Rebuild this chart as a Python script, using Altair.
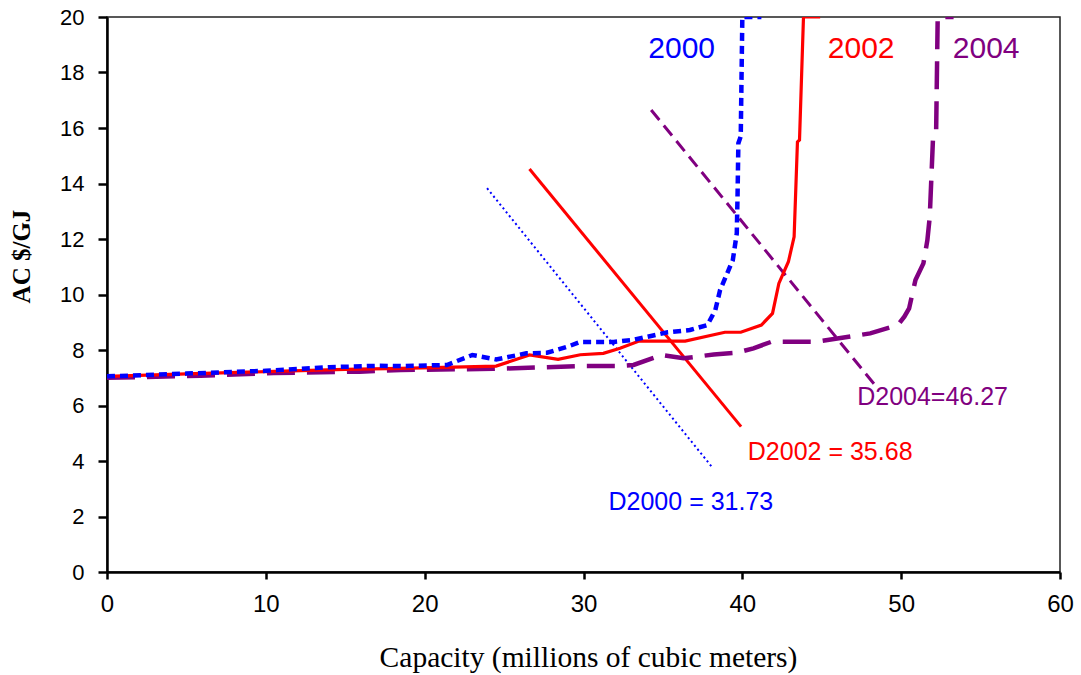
import altair as alt
import pandas as pd

# ---- data ----
x2000 = [0, 5, 10, 14, 17, 18.5, 21.4, 23.0, 24.5, 26.4, 27.7, 29.0, 29.8, 31.9, 33.1,
         35.3, 36.7, 37.8, 38.3, 38.6, 39.4, 39.65, 39.7, 39.75, 39.9, 40.0, 41.2]
y2000 = [7.05, 7.15, 7.25, 7.38, 7.43, 7.42, 7.46, 7.82, 7.66, 7.88, 7.9, 8.12, 8.29, 8.29, 8.36,
         8.64, 8.72, 8.9, 9.44, 10.16, 11.24, 12.2, 13.6, 15.45, 15.7, 20, 20]

x2002 = [0, 5, 10, 15, 18.5, 24.5, 26.6, 28.4, 29.8, 31.25, 32.3, 33.5, 36.4, 38.9, 39.9,
         41.2, 41.9, 42.3, 42.9, 43.26, 43.47, 43.6, 43.85, 44.9]
y2002 = [7.05, 7.14, 7.22, 7.3, 7.34, 7.42, 7.82, 7.66, 7.83, 7.88, 8.06, 8.32, 8.32, 8.64, 8.64,
         8.9, 9.32, 10.4, 11.18, 12.08, 15.5, 15.57, 20, 20]

x2004 = [0, 5.9, 10.5, 15.9, 18.5, 24.3, 29.8, 32.1, 33.15, 34.9, 36.3, 38.2, 39.65, 40.7,
         41.85, 44.7, 48.05, 49.8, 50.2, 50.5, 50.9, 51.4, 51.65, 51.8, 52.0, 52.2, 52.3, 53.3]
y2004 = [7.0, 7.07, 7.17, 7.22, 7.28, 7.32, 7.42, 7.42, 7.46, 7.82, 7.7, 7.84, 7.9, 8.06,
         8.3, 8.3, 8.6, 8.9, 9.2, 9.5, 10.52, 11.12, 11.96, 12.8, 15.57, 15.8, 20, 20]

d2000_x = [23.93, 38.08]
d2000_y = [13.83, 3.79]
d2002_x = [26.6, 39.92]
d2002_y = [14.52, 5.24]
d2004_x = [34.26, 48.5]
d2004_y = [16.65, 6.63]

year_labels = ["2000", "2002", "2004"]
year_x = [36.18, 47.48, 55.35]
year_y = [18.85, 18.85, 18.85]
year_colors = ["#0000FF", "#FF0000", "#800080"]

d_labels = ["D2000 = 31.73", "D2002 = 35.68", "D2004=46.27"]
d_x = [36.76, 45.53, 51.98]
d_y = [2.52, 4.31, 6.32]
d_colors = ["#0000FF", "#FF0000", "#800080"]

x_ticks = [0, 10, 20, 30, 40, 50, 60]
y_ticks = [0, 2, 4, 6, 8, 10, 12, 14, 16, 18, 20]

# ---- scales ----
xs = alt.Scale(domain=[0, 60], nice=False, zero=False)
ys = alt.Scale(domain=[0, 20], nice=False, zero=False)


def series(xv, yv):
    return pd.DataFrame({"x": xv, "y": yv, "o": list(range(len(xv)))})


def line_layer(xv, yv, color, width, dash=None, with_axes=False):
    kw = dict(color=color, strokeWidth=width, clip=True, strokeCap="butt")
    if dash:
        kw["strokeDash"] = dash
    if with_axes:
        xenc = alt.X("x:Q", scale=xs, title="Capacity (millions of cubic meters)",
                     axis=alt.Axis(values=x_ticks, format="d", titleX=481, titleY=85,
                                   titleBaseline="middle", labelFlush=False))
        yenc = alt.Y("y:Q", scale=ys, title="AC $/GJ",
                     axis=alt.Axis(values=y_ticks, format="d", titleX=-86, titleY=239,
                                   titleBaseline="middle", labelFlush=False))
    else:
        xenc = alt.X("x:Q", scale=xs)
        yenc = alt.Y("y:Q", scale=ys)
    return alt.Chart(series(xv, yv)).mark_line(**kw).encode(
        x=xenc, y=yenc, order="o:Q")


layers = [
    line_layer(d2000_x, d2000_y, "#0000FF", 2, [2, 3], with_axes=True),
    line_layer(d2002_x, d2002_y, "#FF0000", 3),
    line_layer(d2004_x, d2004_y, "#800080", 3, [13, 7]),
    line_layer(x2004, y2004, "#800080", 4.5, [28, 12]),
    line_layer(x2002, y2002, "#FF0000", 3.2),
    line_layer(x2000, y2000, "#0000FF", 4.5, [8, 5]),
]

years_df = pd.DataFrame({"t": year_labels, "x": year_x, "y": year_y, "c": year_colors})
dl_df = pd.DataFrame({"t": d_labels, "x": d_x, "y": d_y, "c": d_colors})

years_text = alt.Chart(years_df).mark_text(
    font="Liberation Sans", fontSize=30, align="center", baseline="middle"
).encode(x=alt.X("x:Q", scale=xs), y=alt.Y("y:Q", scale=ys),
         text="t:N", color=alt.Color("c:N", scale=None))

d_text = alt.Chart(dl_df).mark_text(
    font="Liberation Sans", fontSize=25, align="center", baseline="middle"
).encode(x=alt.X("x:Q", scale=xs), y=alt.Y("y:Q", scale=ys),
         text="t:N", color=alt.Color("c:N", scale=None))

chart = alt.layer(*layers, years_text, d_text).properties(
    width=953, height=555,
    autosize=alt.AutoSizeParams(type="none"),
    padding={"left": 107, "top": 17, "right": 21, "bottom": 103},
    background="white",
).configure_view(
    stroke="#222222", strokeWidth=1.5
).configure_axis(
    grid=False,
    domainColor="black", domainWidth=2.5,
    tickColor="black", tickWidth=2.5,
    labelColor="black", titleColor="black",
).configure_axisX(
    labelFont="Liberation Sans", labelFontSize=24, tickSize=7, labelPadding=13,
    titleFont="Liberation Serif", titleFontSize=29.5, titleFontWeight="normal",
).configure_axisY(
    labelFont="Liberation Sans", labelFontSize=22, tickSize=9, labelPadding=14,
    titleFont="Liberation Serif", titleFontSize=25, titleFontWeight="bold",
)

chart.save("out.html", embed_options={"renderer": "svg", "actions": False})
